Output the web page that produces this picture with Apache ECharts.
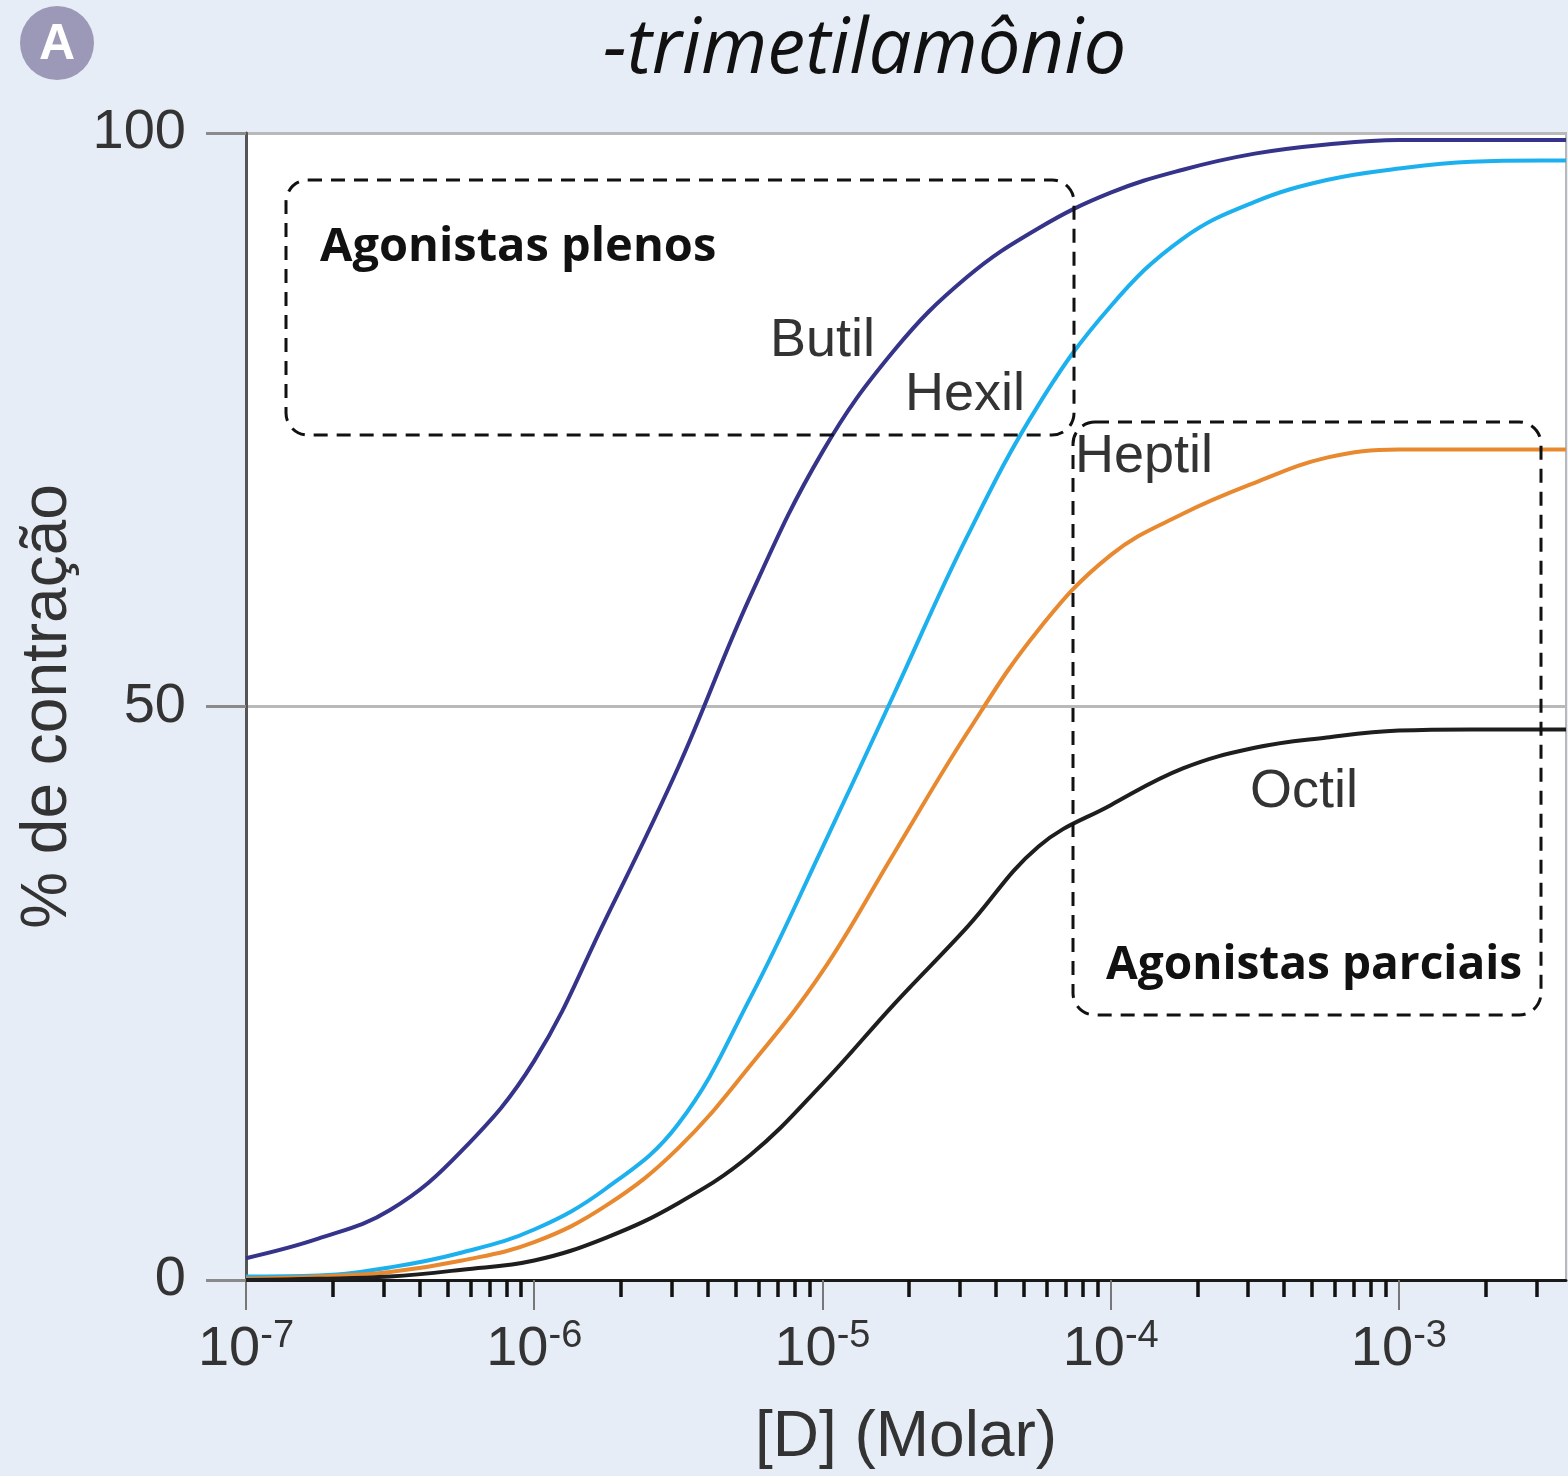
<!DOCTYPE html>
<html><head><meta charset="utf-8">
<script src="https://cdn.jsdelivr.net/npm/echarts@6/dist/echarts.min.js"></script>
<style>html,body{margin:0;padding:0;background:#e7edf6;} #c{width:1568px;height:1476px;}</style>
</head><body><div id="c"></div>
<script>
// Concentrations [D] (Molar)
const concentrations = [1e-7, 1.78e-7, 3.16e-7, 5.62e-7, 1e-6, 1.78e-6, 3.16e-6, 5.62e-6, 1e-5, 1.78e-5, 3.16e-5, 5.62e-5, 1e-4, 1.78e-4, 3.16e-4, 5.62e-4, 1e-3, 1.78e-3, 3.16e-3, 3.8e-3];
// % de contração
const butil  = [1.9, 3.6, 6.1, 11.3, 19.1, 31.6, 44.7, 59.6, 72.2, 81.1, 87.4, 91.7, 94.8, 96.8, 98.2, 99.0, 99.4, 99.4, 99.4, 99.4];
const hexil  = [0.3, 0.4, 1.1, 2.4, 4.4, 8.0, 13.6, 24.6, 37.7, 51.2, 64.7, 76.3, 84.9, 90.8, 94.0, 95.9, 96.9, 97.5, 97.6, 97.6];
const heptil = [0.1, 0.3, 0.7, 1.7, 3.3, 6.5, 11.5, 18.7, 26.9, 37.3, 47.6, 56.7, 63.2, 66.8, 69.5, 71.7, 72.4, 72.4, 72.4, 72.4];
const octil  = [0.0, 0.1, 0.3, 0.9, 1.7, 3.7, 6.7, 10.9, 17.1, 24.1, 30.7, 37.8, 41.4, 44.6, 46.4, 47.3, 47.9, 48.0, 48.0, 48.0];
const seriesNames = ['Butil', 'Hexil', 'Heptil', 'Octil'];
// Axis ticks
const majorTicks = [1e-7, 1e-6, 1e-5, 1e-4, 1e-3];
const minorTicks = [2e-7,3e-7,4e-7,5e-7,6e-7,7e-7,8e-7,9e-7,
                    2e-6,3e-6,4e-6,5e-6,6e-6,7e-6,8e-6,9e-6,
                    2e-5,3e-5,4e-5,5e-5,6e-5,7e-5,8e-5,9e-5,
                    2e-4,3e-4,4e-4,5e-4,6e-4,7e-4,8e-4,9e-4,
                    2e-3,3e-3];
const titleText = '-trimetilamônio';
const xName = '[D] (Molar)';
const yName = '% de contração';

const colors = ['#35348a', '#1cb1ee', '#e8892f', '#1e1e1e'];
const values = [butil, hexil, heptil, octil];

const chart = echarts.init(document.getElementById('c'), null, {renderer: 'canvas'});
const FONT = 'Liberation Sans, Arial, sans-serif';

const option = {
  backgroundColor: '#e7edf6',
  animation: false,
  title: {
    text: titleText, left: 598, top: 8,
    textStyle: {fontFamily: 'Open Sans', fontStyle: 'italic', fontWeight: 'normal', fontSize: 76, color: '#111'}
  },
  grid: {left: 246, right: 2, top: 133, bottom: 196, show: true, backgroundColor: '#ffffff', borderColor: '#b8b8b8', borderWidth: 2},
  xAxis: [{
    type: 'log', logBase: 10, min: 1e-7, max: 3.8e-3,
    axisLine: {show: true, onZero: false, lineStyle: {color: '#1a1a1a', width: 3}},
    axisTick: {show: true, length: 30, lineStyle: {color: '#777', width: 2}, customValues: majorTicks},
    axisLabel: {
      customValues: majorTicks, margin: 38,
      formatter: v => '{b|10}{s|' + Math.round(Math.log10(v)) + '}',
      rich: {
        b: {fontSize: 56, color: '#333', fontFamily: FONT, lineHeight: 60, verticalAlign: 'bottom'},
        s: {fontSize: 38, color: '#333', fontFamily: FONT, verticalAlign: 'top', lineHeight: 46}
      }
    },
    splitLine: {show: false},
    name: xName, nameLocation: 'middle', nameGap: 126,
    nameTextStyle: {fontSize: 64, color: '#333', fontFamily: FONT}
  }, {
    type: 'log', logBase: 10, min: 1e-7, max: 3.8e-3, position: 'bottom',
    axisLine: {show: false},
    axisTick: {show: true, length: 17, lineStyle: {color: '#111', width: 3.5}, customValues: minorTicks},
    axisLabel: {show: false},
    splitLine: {show: false}
  }],
  yAxis: {
    type: 'value', min: 0, max: 100, interval: 50,
    axisLine: {show: true, lineStyle: {color: '#555', width: 3}},
    axisTick: {show: true, length: 40, lineStyle: {color: '#8a8a8a', width: 3}},
    axisLabel: {margin: 60, fontSize: 56, color: '#333', fontFamily: FONT},
    splitLine: {show: true, lineStyle: {color: '#b9b9b9', width: 3}},
    name: yName, nameLocation: 'middle', nameGap: 166,
    nameTextStyle: {fontSize: 64, color: '#333', fontFamily: FONT}
  },
  series: seriesNames.map((n, i) => ({
    name: n, type: 'line', xAxisIndex: 0,
    data: concentrations.map((c, j) => [c, values[i][j]]),
    showSymbol: false, smooth: 0.4,
    lineStyle: {color: colors[i], width: 4}, itemStyle: {color: colors[i]},
    z: 3
  })),
  graphic: [
    {type: 'circle', shape: {cx: 57, cy: 43, r: 37}, style: {fill: '#9b99b7'}},
    {type: 'text', x: 57, y: 45, style: {text: 'A', fill: '#fff', font: 'bold 50px Liberation Sans', textAlign: 'center', textVerticalAlign: 'middle'}},
    {type: 'rect', shape: {x: 286, y: 180, width: 788, height: 255, r: 22}, style: {fill: 'none', stroke: '#111', lineWidth: 3, lineDash: [14, 9]}, z: 10},
    {type: 'rect', shape: {x: 1073, y: 422, width: 468, height: 593, r: 22}, style: {fill: 'none', stroke: '#111', lineWidth: 3, lineDash: [14, 9]}, z: 10},
    {type: 'text', x: 320, y: 248, style: {text: 'Agonistas plenos', fill: '#111', font: 'bold 47px Open Sans', textVerticalAlign: 'middle'}, z: 11},
    {type: 'text', x: 1106, y: 966, style: {text: 'Agonistas parciais', fill: '#111', font: 'bold 46px Open Sans', textVerticalAlign: 'middle'}, z: 11},
    {type: 'text', x: 770, y: 341, style: {text: 'Butil', fill: '#333', font: '54px Liberation Sans', textVerticalAlign: 'middle'}, z: 11},
    {type: 'text', x: 905, y: 395, style: {text: 'Hexil', fill: '#333', font: '54px Liberation Sans', textVerticalAlign: 'middle'}, z: 11},
    {type: 'text', x: 1075, y: 457, style: {text: 'Heptil', fill: '#333', font: '54px Liberation Sans', textVerticalAlign: 'middle'}, z: 11},
    {type: 'text', x: 1250, y: 792, style: {text: 'Octil', fill: '#333', font: '54px Liberation Sans', textVerticalAlign: 'middle'}, z: 11}
  ]
};
chart.setOption(option);
</script>
</body></html>
